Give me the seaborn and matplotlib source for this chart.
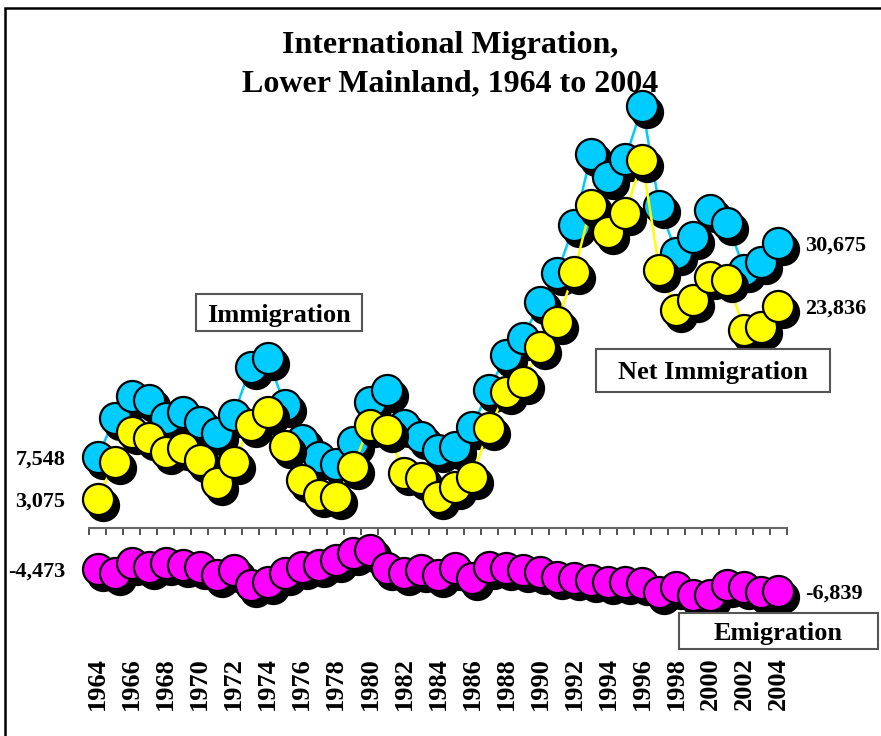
import numpy as np
import pandas as pd
import matplotlib
matplotlib.use("Agg")
import matplotlib.pyplot as plt
import matplotlib.transforms as mtransforms
from matplotlib.patches import Rectangle
import seaborn as sns

# Dados (pessoas por ano)
anos = list(range(1964, 2005))
imigracao = [7548, 11770, 14180, 13740, 11770, 12480, 11400, 10150, 12130, 17330,
             18240, 13200, 9430, 7630, 6800, 9250, 13560, 14820, 11050, 9790,
             8350, 8710, 10870, 14820, 18600, 20430, 24310, 27430, 32610, 40260,
             37780, 39720, 45440, 34660, 29590, 31320, 34230, 32830, 27760, 28620, 30675]
imigracao_liquida = [3075, 7090, 10300, 9620, 8170, 8540, 7280, 4800, 7090, 11050,
                     12480, 8800, 5120, 3500, 3320, 6550, 11050, 10510, 5870, 5330,
                     3320, 4400, 5480, 10690, 14640, 15720, 19460, 22150, 27540, 34770,
                     31860, 33900, 39620, 27760, 23450, 24530, 27000, 26680, 21290, 21610, 23836]
emigracao = [-4473, -4940, -3860, -4220, -3860, -4040, -4220, -5120, -4580, -6200,
             -5840, -4940, -4220, -4040, -3500, -2780, -2430, -4400, -4940, -4580,
             -5120, -4400, -5480, -4220, -4400, -4580, -4760, -5300, -5480, -5660,
             -5840, -5840, -6020, -6920, -6380, -7280, -7280, -6200, -6380, -6920, -6839]

df = pd.DataFrame({"idx": range(len(anos)), "ano": anos,
                   "imigracao": imigracao, "liquida": imigracao_liquida,
                   "emigracao": emigracao})

CIANO = "#00CCFF"
AMARELO = "#FFFF00"
MAGENTA = "#FF00FF"

sns.set_theme(style="white")
plt.rcParams["font.family"] = ["Liberation Serif", "DejaVu Serif"]
plt.rcParams["font.weight"] = "bold"
plt.rcParams["text.color"] = "black"
plt.rcParams["xtick.color"] = "black"
plt.rcParams["xtick.labelcolor"] = "black"

W, H = 881, 736
fig = plt.figure(figsize=(W / 100, H / 100), dpi=100)
ax = fig.add_axes([89 / W, (H - 645) / H, 698 / W, (645 - 90) / H])
ax.set_facecolor("none")

escala = 107.8
zero_px = 527.5
ax.set_xlim(-0.5, len(anos) - 0.5)
ax.set_ylim((zero_px - 645) * escala, (zero_px - 90) * escala)

sombra = mtransforms.offset_copy(ax.transData, fig=fig, x=5, y=-6, units="dots")

TAM = 500
series = [("emigracao", MAGENTA, 2), ("imigracao", CIANO, 5), ("liquida", AMARELO, 8)]
for col, cor, z in series:
    sns.lineplot(data=df, x="idx", y=col, color=cor, lw=1.8, ax=ax, zorder=z, legend=False)
    sns.scatterplot(data=df, x="idx", y=col, color="black", s=TAM, edgecolor="black",
                    linewidth=1.6, ax=ax, zorder=z + 1, legend=False, clip_on=False)
    ax.collections[-1].set_offset_transform(sombra)
    sns.scatterplot(data=df, x="idx", y=col, color=cor, s=TAM, edgecolor="black",
                    linewidth=1.6, ax=ax, zorder=z + 2, legend=False, clip_on=False)

ax.set_xlabel("")
ax.set_ylabel("")
ax.set_yticks([])
for lado in ["top", "left", "right"]:
    ax.spines[lado].set_visible(False)
ax.spines["bottom"].set_position(("data", 0))
ax.spines["bottom"].set_color("#666666")
ax.spines["bottom"].set_linewidth(1.5)
ax.spines["bottom"].set_zorder(1)
ax.set_xticks(np.arange(-0.5, len(anos), 1))
ax.set_xticklabels([])
ax.tick_params(axis="x", direction="out", length=5, width=1.2, color="#333333", bottom=True)

# rótulos dos anos no pé do gráfico
sec = ax.secondary_xaxis("bottom")
sec.set_xticks(df["idx"][::2], labels=[str(a) for a in anos[::2]])
sec.tick_params(length=0, pad=9, labelsize=19, rotation=90, labelcolor="black")
sec.spines["bottom"].set_visible(False)
for t in sec.get_xticklabels():
    t.set_fontweight("bold")

# valores no início e no fim das séries
fs = 16
for col in ["imigracao", "liquida", "emigracao"]:
    v0 = df[col].iloc[0]
    v1 = df[col].iloc[-1]
    ax.annotate(f"{v0:,}", xy=(0, v0), xytext=(-32, 0), textcoords="offset pixels",
                ha="right", va="center_baseline", fontsize=fs, fontweight="bold", color="black")
    ax.annotate(f"{v1:,}", xy=(len(anos) - 1, v1), xytext=(27, 0), textcoords="offset pixels",
                ha="left", va="center_baseline", fontsize=fs, fontweight="bold", color="black")


def caixa(x0, y0, x1, y1, texto):
    fig.patches.append(Rectangle((x0 / W, 1 - y1 / H), (x1 - x0) / W, (y1 - y0) / H,
                                 fill=True, fc="white", ec="#555555", lw=1.5,
                                 transform=fig.transFigure, zorder=20))
    fig.text((x0 + x1) / 2 / W, 1 - (y0 + y1) / 2 / H, texto, ha="center",
             va="center_baseline", fontsize=19, fontweight="bold", color="black", zorder=21)


caixa(196, 294, 362, 331, "Immigration")
caixa(596, 349, 830, 392, "Net Immigration")
caixa(679, 613, 878, 649, "Emigration")

# título
fig.text(450 / W, 1 - 42 / H, "International Migration,", ha="center", va="center_baseline",
         fontsize=23, fontweight="bold", color="black")
fig.text(450 / W, 1 - 80 / H, "Lower Mainland, 1964 to 2004", ha="center", va="center_baseline",
         fontsize=23, fontweight="bold", color="black")

# moldura (só aparecem o lado esquerdo e o topo)
fig.patches.append(Rectangle((4.5 / W, -0.1), 1.2, (H - 8) / H + 0.1, fill=False,
                             ec="black", lw=1.8, transform=fig.transFigure))

fig.savefig("out.png", dpi=100)
